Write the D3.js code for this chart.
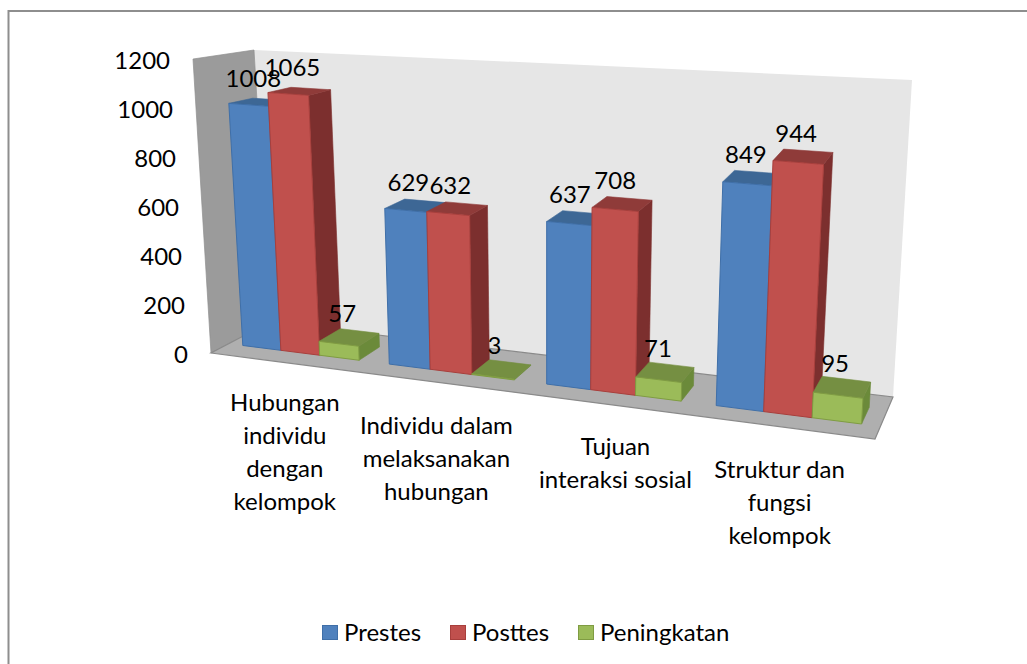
<!DOCTYPE html>
<html>
<head>
<meta charset="utf-8">
<script src="https://cdn.jsdelivr.net/npm/d3@7"></script>
<style>
  html, body { margin: 0; padding: 0; background: #fff; }
  text { font-family: Lato, "Open Sans", sans-serif; fill: #000; }
</style>
</head>
<body>
<svg id="chart" width="1027" height="664" style="display:block"></svg>
<script>
var categories = ["Hubungan individu dengan kelompok", "Individu dalam melaksanakan hubungan", "Tujuan interaksi sosial", "Struktur dan fungsi kelompok"];
var categoryLines = [["Hubungan", "individu", "dengan", "kelompok"], ["Individu dalam", "melaksanakan", "hubungan"], ["Tujuan", "interaksi sosial"], ["Struktur dan", "fungsi", "kelompok"]];
var seriesNames = ["Prestes", "Posttes", "Peningkatan"];
var prestes = [1008, 629, 637, 849];
var posttes = [1065, 632, 708, 944];
var peningkatan = [57, 3, 71, 95];
var yTicks = [0, 200, 400, 600, 800, 1000, 1200];

var seriesValues = [prestes, posttes, peningkatan];
var fills = ["#4f81bd", "#c0504d", "#9bbb59"];
var strokes = ["#3f6fa8", "#a83f3c", "#7f9c42"];
var tops = ["#3d6795", "#8f3b39", "#758f42"];
var sides = ["#3a5f8c", "#7c2f2e", "#6b8a3a"];

var fontSize = 24;
var canvas = d3.select("#chart");

// the corners of the 3d box as they land on the picture
var frontBL = [211, 353], frontBR = [875, 439], frontTL = [193, 59], frontTR = [893, 109];
var backBL = [270, 322], backBR = [893, 397], backTL = [254, 50], backTR = [912, 80];

var uScale = d3.scaleBand().domain(categories).range([0, 1]).paddingInner(0.2).paddingOuter(0.1);
var barScale = d3.scaleBand().domain(seriesNames).range([0, uScale.bandwidth()]);
var vScale = d3.scaleLinear().domain([0, 1200]).range([0, 1]);

// left side is further away, so u gets squeezed there
var perspective = 1.16;
function warp(u) {
    return u / (u + perspective * (1 - u));
}
function mix(a, b, t) {
    return [a[0] + (b[0] - a[0]) * t, a[1] + (b[1] - a[1]) * t];
}
function project(u, v, w) {
    var s = warp(u);
    var front = mix(mix(frontBL, frontBR, s), mix(frontTL, frontTR, s), v);
    var back = mix(mix(backBL, backBR, s), mix(backTL, backTR, s), v);
    return mix(front, back, w);
}
var line = d3.line().curve(d3.curveLinearClosed);

// chart frame, only left and top are inside the picture
canvas.append("path")
    .attr("d", "M8.5,664V11H1027")
    .attr("fill", "none").attr("stroke", "#8e8e8e").attr("stroke-width", 2);

// walls and floor
canvas.append("path").attr("d", line([project(0, 0, 1), project(1, 0, 1), project(1, 1, 1), project(0, 1, 1)]))
    .attr("fill", "#e6e6e6");
canvas.append("path").attr("d", line([project(0, 0, 0), project(0, 0, 1), project(0, 1, 1), project(0, 1, 0)]))
    .attr("fill", "#9b9b9b").attr("stroke", "#8f8f8f").attr("stroke-width", 0.7);
canvas.append("path").attr("d", line([project(0, 0, 0), project(1, 0, 0), project(1, 0, 1), project(0, 0, 1)]))
    .attr("fill", "#afafaf").attr("stroke", "#8a8a8a").attr("stroke-width", 1.2);

// bars, left to right so the next bar covers the hidden side
var wFront = 0.3, wBack = 0.7;
var labels = [];
categories.forEach(function(cat, c) {
    seriesNames.forEach(function(name, s) {
        var value = seriesValues[s][c];
        var u0 = uScale(cat) + barScale(name);
        var u1 = u0 + barScale.bandwidth();
        var v = vScale(value);
        var g = canvas.append("g").attr("class", "bar");
        g.append("path").attr("d", line([project(u1, 0, wFront), project(u1, 0, wBack), project(u1, v, wBack), project(u1, v, wFront)]))
            .attr("fill", sides[s]).attr("stroke", sides[s]).attr("stroke-width", 0.6);
        g.append("path").attr("d", line([project(u0, v, wFront), project(u1, v, wFront), project(u1, v, wBack), project(u0, v, wBack)]))
            .attr("fill", tops[s]).attr("stroke", tops[s]).attr("stroke-width", 0.6);
        g.append("path").attr("d", line([project(u0, 0, wFront), project(u1, 0, wFront), project(u1, v, wFront), project(u0, v, wFront)]))
            .attr("fill", fills[s]).attr("stroke", strokes[s]).attr("stroke-width", 1);
        var p = project((u0 + u1) / 2, v, (wFront + wBack) / 2);
        labels.push({text: value, x: p[0] - 7, y: p[1] - 15});
    });
});

// data labels go on top of all bars
canvas.append("g").selectAll("text").data(labels).enter().append("text")
    .attr("x", d => d.x).attr("y", d => d.y)
    .attr("text-anchor", "middle").attr("font-size", fontSize)
    .text(d => d.text);

// value axis
canvas.append("g").selectAll("text").data(yTicks).enter().append("text")
    .attr("x", d => project(0, vScale(d), 0)[0] - 23)
    .attr("y", d => project(0, vScale(d), 0)[1] + 10)
    .attr("text-anchor", "end").attr("font-size", fontSize)
    .text(d => d);

// category labels
var labelNudgeX = [1, -1, 13, -1];
var labelNudgeY = [41, 44, 43, 43];
var lineHeight = 33;
categories.forEach(function(cat, c) {
    var p = project(uScale(cat) + uScale.bandwidth() / 2, 0, 0);
    categoryLines[c].forEach(function(txt, i) {
        canvas.append("text")
            .attr("x", p[0] + labelNudgeX[c])
            .attr("y", p[1] + labelNudgeY[c] + 8 + i * lineHeight)
            .attr("text-anchor", "middle").attr("font-size", fontSize)
            .text(txt);
    });
});

// legend
var legendX = d3.scalePoint().domain(seriesNames).range([322, 578]);
var legend = canvas.append("g").selectAll("g").data(seriesNames).enter().append("g")
    .attr("transform", d => "translate(" + legendX(d) + ",625)");
legend.append("rect")
    .attr("x", 0.5).attr("y", 0.5).attr("width", 15).attr("height", 14)
    .attr("fill", (d, i) => fills[i]).attr("stroke", (d, i) => strokes[i]);
legend.append("text")
    .attr("x", 22).attr("y", 16).attr("font-size", fontSize)
    .text(d => d);
</script>
</body>
</html>
